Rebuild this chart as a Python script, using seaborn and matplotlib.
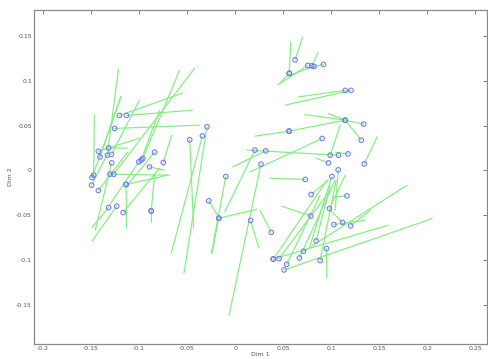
import matplotlib
matplotlib.use("Agg")
import matplotlib.pyplot as plt
import numpy as np
import pandas as pd
import seaborn as sns

# Point coordinates (Dim 1, Dim 2) and the far end of each point's displacement segment
dim1 = [-0.1205, -0.1132, -0.1254, -0.1317, -0.1330, -0.1424, -0.0839, -0.1406, -0.1288, -0.0961,
        -0.0978, -0.1003, -0.0748, -0.1285, -0.0891, -0.1302, -0.1264, -0.1473, -0.1490, -0.1494,
        -0.1424, -0.1135, -0.1135, -0.1317, -0.1233, -0.1166, -0.0874, -0.0874,
        -0.0293, -0.0341, -0.0473, -0.0097, -0.0275, -0.0170, 0.0206, 0.0318, 0.0269, 0.0161, -0.0170,
        0.0624, 0.0564, 0.0564, 0.0757, 0.0798, 0.0822, 0.0920, 0.1146, 0.1206, 0.1146, 0.1338, 0.1146,
        0.0561, 0.0561, 0.0906, 0.1313, 0.0990, 0.1076, 0.1175, 0.0972, 0.1345, 0.1073, 0.1007, 0.0731,
        0.0791, 0.1164, 0.0982,
        0.0376, 0.0788, 0.1028, 0.1118, 0.1202, 0.0843, 0.0711, 0.0951, 0.0397, 0.0457, 0.0669, 0.0885,
        0.0537, 0.0509, 0.0397]
dim2 = [0.0614, 0.0614, 0.0469, 0.0252, 0.0171, 0.0215, 0.0204, 0.0152, 0.0179, 0.0134,
        0.0115, 0.0096, 0.0089, 0.0085, 0.0040, -0.0041, -0.0041, -0.0052, -0.0078, -0.0164,
        -0.0223, -0.0156, -0.0156, -0.0413, -0.0398, -0.0469, -0.0451, -0.0451,
        0.0487, 0.0386, 0.0342, -0.0067, -0.0339, -0.0532, 0.0227, 0.0219, 0.0070, -0.0558, -0.0532,
        0.1234, 0.1083, 0.1083, 0.1172, 0.1167, 0.1161, 0.1183, 0.0893, 0.0893, 0.0561, 0.0517, 0.0561,
        0.0439, 0.0439, 0.0357, 0.0338, 0.0171, 0.0171, 0.0185, 0.0085, 0.0074, 0.0007, -0.0067, -0.0100,
        -0.0268, -0.0283, -0.0424,
        -0.0689, -0.0507, -0.0603, -0.0580, -0.0618, -0.0786, -0.0901, -0.0870, -0.0987, -0.0982, -0.0975,
        -0.1004, -0.1046, -0.1109, -0.0987]
end1 = [-0.0547, -0.0442, -0.0369, -0.1121, -0.1215, -0.0996, -0.1121, -0.1194, -0.0996, -0.0578,
        -0.0787, -0.1309, -0.0661, -0.1456, -0.0735, -0.0682, -0.0420, -0.1466, -0.1184, -0.1309,
        -0.1121, -0.1132, -0.0703, -0.1487, -0.1490, -0.0787, -0.0839, -0.0870,
        -0.0533, -0.0665, -0.0432, -0.0247, -0.0170, 0.0227, -0.0108, -0.0024, -0.0063, 0.0248, -0.0243,
        0.0704, 0.0579, 0.0446, 0.0467, 0.0864, 0.0572, 0.0760, 0.0658, 0.0519, 0.0728, 0.1146, 0.0972,
        0.0206, 0.1146, 0.0154, 0.1146, 0.1094, 0.0122, 0.1042, 0.0843, 0.1478, 0.1042, 0.0781, 0.0363,
        0.0969, 0.1021, 0.1146,
        0.0258, 0.0485, 0.1355, 0.0990, 0.1410, 0.0990, 0.1791, 0.0955, 0.1596, 0.0990, 0.1042, 0.1052,
        0.0885, 0.2052, 0.0958]
end2 = [0.0863, 0.0673, 0.0506, 0.0249, 0.1126, 0.0360, -0.0164, 0.0818, 0.0785, 0.1119,
        0.0673, -0.0387, 0.0394, -0.0666, 0.0003, -0.0052, 0.1142, 0.0617, 0.0829, 0.0227,
        0.0204, -0.0644, -0.0052, -0.0633, -0.0789, 0.0026, -0.0052, -0.0577,
        -0.1146, -0.0923, -0.0644, -0.0923, -0.0521, -0.0432, -0.0462, 0.0040, -0.1615, -0.0867, -0.0926,
        0.1491, 0.1435, 0.0952, 0.0971, 0.1317, 0.1064, 0.1142, 0.0821, 0.0729, 0.0625, 0.0561, 0.0636,
        0.0383, 0.0561, -0.0016, 0.0561, 0.0506, 0.0227, 0.0204, 0.0137, 0.0375, -0.0443, -0.0834, -0.0086,
        -0.0108, -0.0298, -0.0052,
        -0.0443, -0.0398, -0.0555, -0.0443, -0.0443, -0.0164, -0.0164, -0.1202, -0.0610, -0.0220, -0.0108,
        -0.0108, -0.0276, -0.0536, -0.0108]

x_ticks = [-0.2, -0.15, -0.1, -0.05, 0, 0.05, 0.1, 0.15, 0.2, 0.25]
x_tick_labels = ["-0.2", "-0.15", "-0.1", "-0.05", "0", "0.05", "0.1", "0.15", "0.2", "0.25"]
y_ticks = [-0.15, -0.1, -0.05, 0, 0.05, 0.1, 0.15]
y_tick_labels = ["-0.15", "-0.1", "-0.05", "0", "0.05", "0.1", "0.15"]

points = pd.DataFrame({"Dim 1": dim1, "Dim 2": dim2})
segments = pd.DataFrame({
    "seg": np.concatenate([np.arange(len(dim1)), np.arange(len(dim1))]),
    "Dim 1": np.concatenate([dim1, end1]),
    "Dim 2": np.concatenate([dim2, end2]),
    "order": np.concatenate([np.zeros(len(dim1)), np.ones(len(dim1))]),
}).sort_values(["seg", "order"])

sns.set_theme(style="white")
plt.rcParams["font.family"] = ["DejaVu Sans"]

fig = plt.figure(figsize=(4.88, 3.59), dpi=100)
ax = fig.add_axes([34 / 488, 15 / 359, 453 / 488, 334 / 359])

sns.lineplot(data=segments, x="Dim 1", y="Dim 2", units="seg", estimator=None, sort=False,
             color="#80ee80", linewidth=0.85, ax=ax, legend=False)
sns.scatterplot(data=points, x="Dim 1", y="Dim 2", marker="o", s=11, facecolors="none",
                edgecolor="#7474f2", linewidth=0.75, ax=ax, legend=False, zorder=3)

ax.set_xlim(-0.2094, 0.2622)
ax.set_ylim(-0.1935, 0.179)
ax.set_xticks(x_ticks)
ax.set_xticklabels(x_tick_labels)
ax.set_yticks(y_ticks)
ax.set_yticklabels(y_tick_labels)
ax.tick_params(direction="in", length=3, width=0.7, top=True, right=True,
               labelsize=4.5, colors="#777777", labelcolor="#555555", pad=1.5)
for side in ax.spines.values():
    side.set_color("#8a8a8a")
    side.set_linewidth(0.9)
ax.set_xlabel("Dim 1", fontsize=4.5, color="#555555", labelpad=0.5)
ax.set_ylabel("Dim 2", fontsize=4.5, color="#555555", labelpad=2)

fig.savefig("out.png", dpi=100)
